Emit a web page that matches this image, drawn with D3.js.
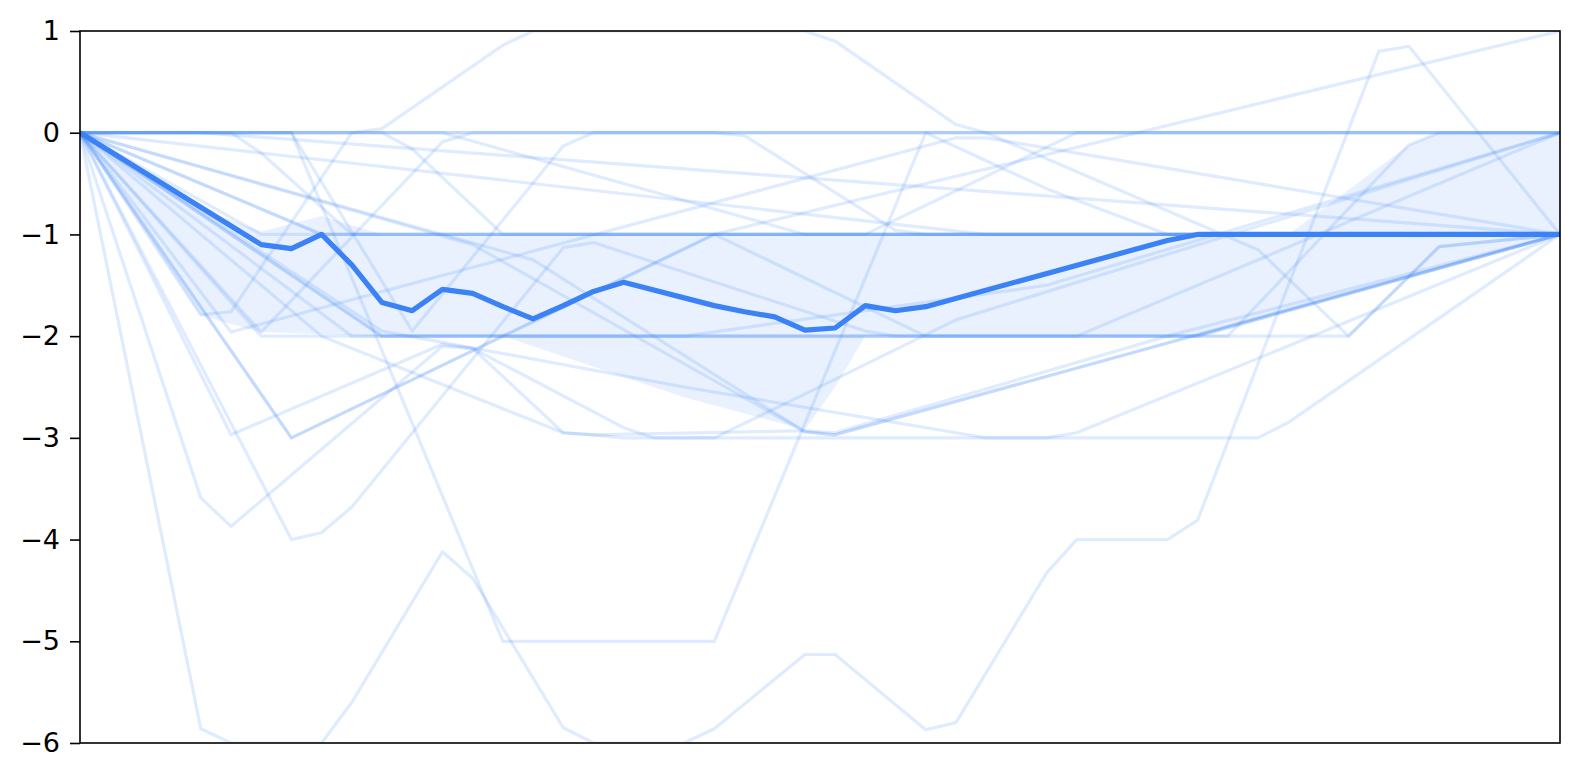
<!DOCTYPE html>
<html>
<head>
<meta charset="utf-8">
<script src="https://cdn.jsdelivr.net/npm/d3@7"></script>
<style>
  body { margin: 0; background: #fff; }
  .tick text { font-family: "DejaVu Sans", sans-serif; }
</style>
</head>
<body>
<div class="vis-runs"></div>
<script>
// each run: [step, value] vertices
const flatA = [[0, 0], [49, 0]];
const flatB = [[0, 0], [49, 0]];
const deepRun = [[0, 0], [4, -5.86], [5, -6], [8, -6], [9, -5.6], [12, -4.12], [13, -4.38], [16, -5.85], [17, -6], [20, -6], [21, -5.86], [24, -5.13], [25, -5.13], [28, -5.87], [29, -5.8], [32, -4.33], [33, -4], [36, -4], [37, -3.81], [43, 0.8], [44, 0.85], [49, -1]];
const highRun = [[0, 0], [4, -1.79], [5, -1.76], [9, 0], [10, 0.04], [14, 0.86], [15, 1], [24, 1], [25, 0.9], [29, 0.08], [30, 0], [39, -1.15], [42, -2], [45, -1.12], [49, -1]];
const dropRun = [[0, 0], [7, 0], [14, -5], [21, -5], [28, 0], [32, -0.55], [36, -1], [49, -1]];
const runB = [[0, 0], [4, -3.59], [5, -3.87], [12, -2.1], [13, -2.12], [16, -2.95], [17, -2.97], [18, -3], [21, -3], [24, -2.57], [29, -1.84], [49, 0]];
const runC = [[0, 0], [7, -4], [8, -3.93], [9, -3.68], [16, -1.13], [17, -1.08], [26, -1.95], [27, -2], [33, -2], [49, 0]];
const runD = [[0, 0], [7, -3], [21, -1], [28, -2], [37, -2], [49, -1]];
const runE = [[0, 0], [7, -3], [21, -1], [49, -1]];
const runF = [[0, 0], [5, -2.97], [12, -2.08], [13, -2.12], [18, -2.9], [19, -3], [32, -3], [33, -2.95], [49, -1]];
const runG = [[0, 0], [6, -1], [49, -1]];
const runH = [[0, 0], [6, -2], [37, -2], [49, -1]];
const runI = [[0, 0], [10, -2], [42, -2], [45, -1.12], [49, -1]];
const runJ = [[0, 0], [6, -1.96], [12, -0.09], [13, 0], [21, 0], [22, -0.03], [27, -0.96], [28, -1], [49, -1]];
const runK = [[0, 0], [7, 0], [11, -1.95], [16, -0.13], [17, 0], [49, 0]];
const runL = [[0, 0], [8, -1], [21, -1], [49, 1]];
const runM = [[0, 0], [9, -2], [38, -2], [44, -0.12], [45, 0], [49, 0]];
const runN = [[0, 0], [10, -1.95], [20, -2.5], [29, -2.95], [30, -3], [39, -3], [40, -2.85], [49, -1]];
const runO = [[0, 0], [13, -1.1], [24, -2.94], [25, -2.97], [49, -1]];
const runP = [[0, 0], [15, -1.25], [24, -2.94], [25, -2.97], [49, -1]];
const runQ = [[0, 0], [30, -1], [49, -1]];
const runR = [[0, 0], [4, 0], [49, -1]];
const runS = [[0, 0], [12, 0], [24, -1], [49, -1]];
const runT = [[0, 0], [10, 0], [11, -0.16], [14, -1], [49, -1]];
const runU = [[0, 0], [5, 0], [6, -0.2], [9, -1], [49, -1]];
const runV = [[0, 0], [5, -1.96], [29, -0.05], [30, -0.05], [49, -1]];
const runW = [[0, 0], [8, -1], [26, -1], [33, 0], [49, 0]];
const runX = [[0, 0], [10, -2], [20, -2], [32, -1.5], [49, 0]];
const runY = [[0, 0], [8, -2], [16, -2.95], [17, -2.97], [24, -2.93], [25, -2.95], [36, -2], [49, -1]];

const meanRun = [[0, 0], [6, -1.1], [7, -1.14], [8, -1], [9, -1.3], [10, -1.67], [11, -1.75], [12, -1.54], [13, -1.58], [14, -1.71], [15, -1.83], [16, -1.7], [17, -1.56], [18, -1.47], [21, -1.7], [22, -1.76], [23, -1.81], [24, -1.94], [25, -1.92], [26, -1.7], [27, -1.75], [28, -1.71], [36, -1.06], [37, -1], [49, -1]];
const bandUpper = [[0, 0], [4, -0.75], [6, -0.97], [8, -0.82], [10, -1], [40, -1], [44, -0.12], [45, 0], [49, 0]];
const bandLower = [[0, 0], [4, -1.8], [6, -1.96], [10, -2], [14, -2], [20, -2.6], [24, -2.92], [25, -2.5], [26, -2], [37, -2], [49, -1]];

const yTicks = [-6, -5, -4, -3, -2, -1, 0, 1];

const runs = [flatA, flatB, deepRun, highRun, dropRun, runB, runC, runD, runE, runF, runG, runH, runI, runJ, runK, runL, runM, runN, runO, runP, runQ, runR, runS, runT, runU, runV, runW, runX, runY];

const draw = () => {
  const blue = "#3b82f6";
  let margin = { top: 31, right: 20, bottom: 37, left: 80 };
  const width = 1580 - margin.left - margin.right;
  const height = 780 - margin.top - margin.bottom;

  let root = d3
    .select(".vis-runs")
    .append("svg")
    .attr("width", 1580)
    .attr("height", 780);

  root
    .append("defs")
    .append("clipPath")
    .attr("id", "plot-clip")
    .append("rect")
    .attr("width", width)
    .attr("height", height);

  let svg = root
    .append("g")
    .attr("transform", "translate(" + margin.left + "," + margin.top + ")");

  let x = d3.scaleLinear().domain([0, 49]).range([0, width]);
  let y = d3.scaleLinear().domain([-6, 1]).range([height, 0]);

  let line = d3
    .line()
    .x((d) => x(d[0]))
    .y((d) => y(d[1]));

  let plot = svg.append("g").attr("clip-path", "url(#plot-clip)");

  // faint individual runs
  plot
    .selectAll(".run")
    .data(runs)
    .enter()
    .append("path")
    .attr("class", "run")
    .attr("fill", "none")
    .attr("stroke", blue)
    .attr("stroke-opacity", 0.16)
    .attr("stroke-width", 3.2)
    .attr("stroke-linejoin", "round")
    .attr("d", line);

  // shaded band
  plot
    .append("path")
    .attr("fill", blue)
    .attr("fill-opacity", 0.11)
    .attr("stroke", "none")
    .attr("d", line(bandUpper.concat(bandLower.slice().reverse())) + "Z");

  // mean run
  plot
    .append("path")
    .datum(meanRun)
    .attr("fill", "none")
    .attr("stroke", blue)
    .attr("stroke-width", 5.2)
    .attr("stroke-linejoin", "round")
    .attr("d", line);

  let yAxis = svg
    .append("g")
    .attr("class", "y-axis")
    .call(
      d3
        .axisLeft(y)
        .tickValues(yTicks)
        .tickFormat(d3.format("d"))
        .tickSize(10)
        .tickPadding(10)
    );
  yAxis.select(".domain").remove();
  yAxis.selectAll(".tick line").attr("stroke", "#000").attr("stroke-width", 1.6);
  yAxis
    .selectAll(".tick text")
    .attr("fill", "#000")
    .style("font-size", "27px");

  // frame
  svg
    .append("rect")
    .attr("width", width)
    .attr("height", height)
    .attr("fill", "none")
    .attr("stroke", "#000")
    .attr("stroke-width", 1.6);
};

draw();
</script>
</body>
</html>
